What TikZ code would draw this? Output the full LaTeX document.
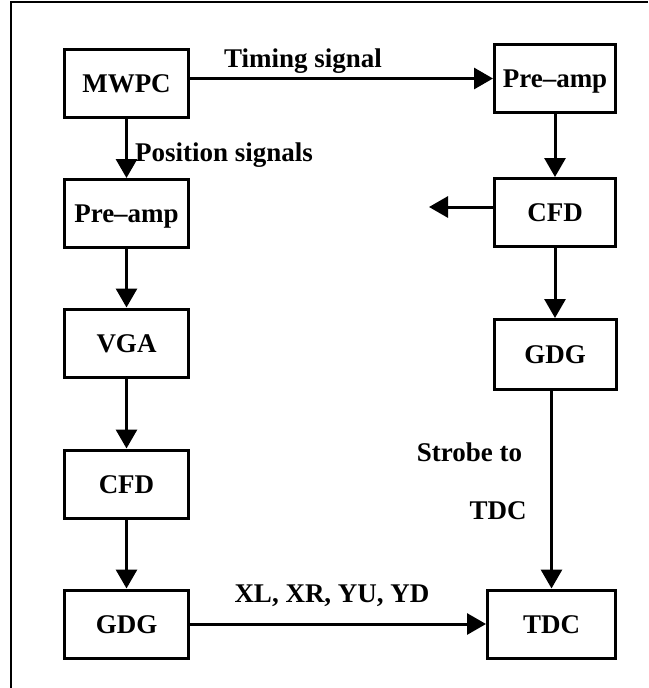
\documentclass[tikz,border=0pt]{standalone}
\usepackage{fontspec}
\setmainfont{Liberation Serif}
\usetikzlibrary{arrows.meta}
\begin{document}
\begin{tikzpicture}[x=1pt,y=-1pt,
  box/.style={draw,line width=3pt,minimum width=124pt,minimum height=68pt,inner sep=0pt,
    font=\fontsize{27}{30}\selectfont\bfseries,text height=18pt,text depth=0pt},
  lbl/.style={inner sep=0pt,font=\fontsize{27}{30}\selectfont\bfseries,text height=18pt,text depth=0pt},
  arr/.style={line width=3pt,-{Triangle[length=19pt,width=21pt]}},
  frame/.style={line width=1.5pt}]
\useasboundingbox (0,0) rectangle (648,688);
\draw[frame] (11,688) -- (11,2) -- (648,2);
% left column
\node[box] (mwpc) at (126.5,83.5) {MWPC};
\node[box] (lpre) at (126.5,213.5) {Pre–amp};
\node[box] (vga) at (126.5,343) {VGA};
\node[box] (lcfd) at (126.5,484) {CFD};
\node[box] (lgdg) at (126.5,624) {GDG};
% right column
\node[box,minimum width=121pt] (rpre) at (555,78.5) {Pre–amp};
\node[box,minimum width=121pt] (rcfd) at (555,212.5) {CFD};
\node[box,minimum width=122pt,minimum height=70pt] (rgdg) at (555,354.5) {GDG};
\node[box,minimum width=128pt] (tdc) at (551.5,624) {TDC};
\coordinate (cfdout) at (429,207);
% connectors
\draw[arr] (mwpc) -- (lpre);
\draw[arr] (lpre) -- (vga);
\draw[arr] (vga) -- (lcfd);
\draw[arr] (lcfd) -- (lgdg);
\draw[arr] (lgdg) -- (tdc);
\draw[arr] (mwpc.east |- rpre.west) -- (rpre.west);
\draw[arr] (rpre) -- (rcfd);
\draw[arr] (rcfd.west |- cfdout) -- (cfdout);
\draw[arr] (rcfd) -- (rgdg);
\draw[arr] (rgdg.south -| tdc.north) -- (tdc.north);
% labels
\node[lbl] (tsig) at (303,58.5) {Timing signal};
\node[lbl,anchor=west] (psig) at (135,152.5) {Position signals};
\node[lbl] (xl) at (332,593.5) {XL, XR, YU, YD};
\node[lbl] (strobe) at (469.5,452) {Strobe to};
\node[lbl] (tdcl) at (498,510.5) {TDC};
\end{tikzpicture}
\end{document}
